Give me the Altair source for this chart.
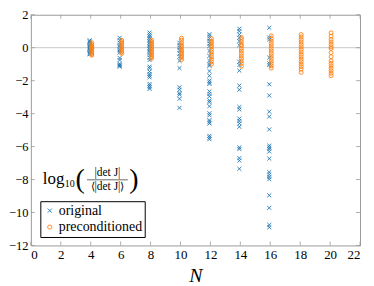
import altair as alt
import pandas as pd

# ---- data ----
N_orig = [4, 6, 8, 10, 12, 14, 16]
orig_vals = [
    [0.45, 0.38, 0.3, 0.22, 0.15, 0.08, 0.02, -0.05, -0.12, -0.2, -0.28, -0.35, -0.4],
    [0.6, 0.45, 0.3, 0.15, 0.05, -0.1, -0.2, -0.3, -0.62, -0.75, -0.98, -1.05, -1.1, -1.15],
    [0.92, 0.8, 0.7, 0.6, 0.5, 0.4, 0.3, 0.2, 0.1, 0.0, -0.1, -0.2, -0.3, -0.45, -0.6, -0.75,
     -1.15, -1.25, -1.45, -1.6, -1.7, -1.8, -2.2, -2.3, -2.4, -2.5],
    [0.3, 0.15, 0.0, -0.15, -0.35, -0.55, -0.8, -1.24, -2.4, -2.55, -2.75, -2.85, -3.1, -3.65],
    [0.82, 0.7, 0.55, 0.4, 0.25, 0.1, -0.2, -0.5, -0.8, -1.0, -1.1, -1.42, -1.7, -2.0, -2.1,
     -2.2, -2.65, -2.8, -2.95, -3.2, -3.3, -3.55, -3.98, -4.1, -4.4, -4.5, -4.6, -5.35, -5.45, -5.55],
    [1.15, 1.0, 0.8, 0.6, 0.4, 0.15, -0.85, -1.05, -1.39, -2.3, -2.55, -3.6, -3.75, -4.3, -4.45,
     -4.6, -4.8, -6.05, -6.15, -6.7, -6.85, -7.35],
    [1.21, 0.62, 0.5, -0.6, -0.95, -1.05, -2.22, -2.9, -3.88, -4.18, -4.96, -5.94, -6.05, -6.15,
     -6.3, -6.73, -7.55, -7.7, -7.85, -7.98, -8.96, -9.72, -10.75, -10.9],
]
N_prec = [4, 6, 8, 10, 12, 14, 16, 18, 20]
prec_vals = [
    [0.3, 0.2, 0.1, 0.05, 0.0, -0.05, -0.1, -0.2, -0.3, -0.4, -0.45],
    [0.45, 0.35, 0.25, 0.15, 0.05, -0.05, -0.15, -0.25, -0.35],
    [0.45, 0.35, 0.25, 0.15, 0.05, -0.05, -0.15, -0.25, -0.35, -0.45, -0.55, -0.65],
    [0.58, 0.45, 0.3, 0.15, 0.05, -0.1, -0.2, -0.3, -0.4, -0.5, -0.6, -0.72],
    [0.55, 0.4, 0.3, 0.15, 0.05, -0.1, -0.25, -0.4, -0.55, -0.7, -0.85, -1.0],
    [0.62, 0.5, 0.35, 0.2, 0.1, -0.05, -0.2, -0.35, -0.5, -0.65, -0.8, -0.95, -1.12],
    [0.72, 0.55, 0.4, 0.25, 0.1, -0.05, -0.2, -0.35, -0.5, -0.65, -0.8, -0.95, -1.1, -1.24],
    [0.8, 0.65, 0.5, 0.35, 0.2, 0.05, -0.1, -0.25, -0.4, -0.55, -0.7, -0.85, -1.0, -1.15, -1.3, -1.5],
    [0.9, 0.7, 0.5, 0.35, 0.2, 0.05, -0.05, -0.3, -0.55, -0.8, -0.95, -1.1, -1.25, -1.4, -1.55, -1.7],
]
series_names = ["original", "preconditioned"]
x_ticks = list(range(0, 23, 2))
y_ticks = list(range(-12, 3, 2))

rows_o = [{"N": n, "v": v, "series": series_names[0]} for n, vs in zip(N_orig, orig_vals) for v in vs]
rows_p = [{"N": n, "v": v, "series": series_names[1]} for n, vs in zip(N_prec, prec_vals) for v in vs]
df_o = pd.DataFrame(rows_o)
df_p = pd.DataFrame(rows_p)

W, H = 331, 232
FONT = "Liberation Serif"
FRAME = "#9a9a9a"

xs = alt.Scale(domain=[0, 22], nice=False, zero=False)
ys = alt.Scale(domain=[-12, 2], nice=False, zero=False)

x_axis = alt.Axis(values=x_ticks, title="N", grid=False, ticks=False, tickSize=0, domain=False,
                  labelPadding=3, labelFont=FONT, labelFontSize=13,
                  titleFont=FONT, titleFontStyle="italic", titleFontSize=20,
                  titleFontWeight="normal", titlePadding=4)
y_axis = alt.Axis(values=y_ticks, title=None, grid=False, ticks=False, tickSize=0, domain=False,
                  labelPadding=3, labelFont=FONT, labelFontSize=12.5)

color_scale = alt.Scale(domain=series_names, range=["#1f77b4", "#ff7f0e"])
shape_scale = alt.Scale(domain=series_names, range=["M-1,-1L1,1M-1,1L1,-1", "circle"])

legend = alt.Legend(title=None, orient="none", legendX=9.5, legendY=187.5, strokeColor="black",
                    fillColor="white", padding=2.5, cornerRadius=0, labelFontSize=14,
                    labelFont=FONT, symbolSize=18, symbolStrokeWidth=0.9, rowPadding=2.5,
                    labelOffset=2)

col = alt.Color("series:N", scale=color_scale, legend=legend)
shp = alt.Shape("series:N", scale=shape_scale, legend=legend)

zero_line = alt.Chart(pd.DataFrame({"z": [0]})).mark_rule(color="#c8c8c8", strokeWidth=1).encode(
    y=alt.Y("z:Q", scale=ys, axis=y_axis))

pts_o = alt.Chart(df_o).mark_point(filled=False, size=16, strokeWidth=0.9, opacity=1, xOffset=-1).encode(
    x=alt.X("N:Q", scale=xs, axis=x_axis), y=alt.Y("v:Q", scale=ys, axis=y_axis), color=col, shape=shp)
pts_p = alt.Chart(df_p).mark_point(filled=False, size=16, strokeWidth=0.9, opacity=1, xOffset=1).encode(
    x=alt.X("N:Q", scale=xs, axis=x_axis), y=alt.Y("v:Q", scale=ys, axis=y_axis), color=col, shape=shp)

xt = pd.DataFrame({"t": x_ticks})
yt = pd.DataFrame({"t": y_ticks})
tick_b = alt.Chart(xt).mark_rule(color=FRAME, strokeWidth=0.8).encode(
    x=alt.X("t:Q", scale=xs, axis=x_axis), y=alt.value(H), y2=alt.value(H - 4))
tick_t = alt.Chart(xt).mark_rule(color=FRAME, strokeWidth=0.8).encode(
    x=alt.X("t:Q", scale=xs, axis=x_axis), y=alt.value(0), y2=alt.value(4))
tick_l = alt.Chart(yt).mark_rule(color=FRAME, strokeWidth=0.8).encode(
    y=alt.Y("t:Q", scale=ys, axis=y_axis), x=alt.value(0), x2=alt.value(4))
tick_r = alt.Chart(yt).mark_rule(color=FRAME, strokeWidth=0.8).encode(
    y=alt.Y("t:Q", scale=ys, axis=y_axis), x=alt.value(W), x2=alt.value(W - 4))

# annotation: log10( |det J| / <|det J|> )
def txt(s, x, y, size, align="left", baseline="alphabetic"):
    return alt.Chart(pd.DataFrame({"s": [s]})).mark_text(
        font=FONT, fontSize=size, align=align, baseline=baseline, color="black").encode(
        text="s:N", x=alt.value(x), y=alt.value(y))

ann = [
    txt("log", 12, 170, 17),
    txt("10", 34, 173.5, 10),
    txt("(", 49.5, 166, 28, align="center", baseline="middle"),
    txt("|det J|", 77, 159, 11.5, align="center", baseline="middle"),
    txt("⟨|det J|⟩", 77, 173.5, 11.5, align="center", baseline="middle"),
    txt(")", 103.5, 166, 28, align="center", baseline="middle"),
]
frac_line = alt.Chart(pd.DataFrame({"a": [0]})).mark_rule(color="black", strokeWidth=0.6).encode(
    x=alt.value(56.5), x2=alt.value(97.5), y=alt.value(166))

chart = alt.layer(zero_line, tick_b, tick_t, tick_l, tick_r, pts_o, pts_p, *ann, frac_line).properties(
    width=W, height=H,
    autosize=alt.AutoSizeParams(type="none"),
    padding={"left": 23, "top": 6, "right": 6, "bottom": 40},
).configure_view(stroke=FRAME, strokeWidth=1).configure_axis(
    labelFont=FONT, titleFont=FONT, labelColor="black", titleColor="black"
).configure_legend(labelColor="black", labelFont=FONT, labelFontSize=14)

chart.save("out.html", embed_options={"renderer": "svg", "actions": False})
